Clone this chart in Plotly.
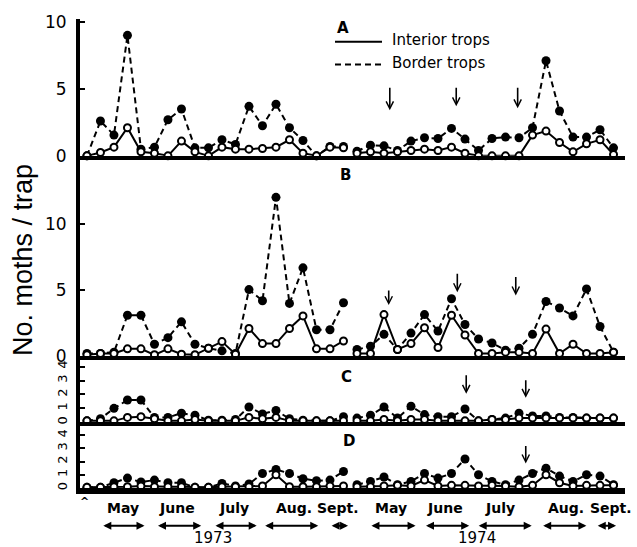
import plotly.graph_objects as go

# Trap visits: 20 per season (1973: 0-19, 1974: 20-39)
visit = list(range(40))
SEASON_SPLIT = 20

# Panel A
border_A = [0, 2.6, 1.55, 9.0, 0.5, 0.65, 2.7, 3.5, 0.6, 0.6, 1.2, 0.85, 3.7, 2.25, 3.85, 2.1, 1.15, 0, 0.7, 0.7,
            0.35, 0.8, 0.75, 0.4, 1.1, 1.35, 1.3, 2.05, 1.25, 0.4, 1.3, 1.4, 1.35, 2.1, 7.1, 3.35, 1.4, 1.4, 1.95, 0.6]
interior_A = [0, 0.25, 0.65, 2.1, 0.3, 0.2, 0, 1.1, 0.3, 0, 0.65, 0.5, 0.5, 0.55, 0.65, 1.2, 0.2, 0, 0.65, 0.6,
              0.2, 0.3, 0.2, 0.3, 0.4, 0.5, 0.4, 0.65, 0.2, 0, 0, 0, 0, 1.55, 1.85, 1.0, 0.3, 0.9, 1.2, 0.1]
# Panel B
border_B = [0.2, 0.2, 0.3, 3.1, 3.1, 0.9, 1.4, 2.6, 0.9, 0.6, 0.4, 0.2, 5.05, 4.2, 12.05, 4.0, 6.7, 2.0, 2.0, 4.05,
            0.5, 0.75, 1.65, 0.5, 1.75, 3.15, 1.9, 4.35, 2.4, 1.3, 1.0, 0.45, 0.6, 1.65, 4.15, 3.65, 3.05, 5.1, 2.25, 0.3]
interior_B = [0.1, 0.2, 0.2, 0.55, 0.55, 0.1, 0.55, 0.15, 0.1, 0.6, 1.1, 0.15, 2.1, 0.95, 0.95, 2.1, 3.05, 0.55, 0.55, 1.15,
              0.2, 0.2, 3.15, 0.5, 0.95, 2.15, 0.65, 3.1, 1.6, 0.2, 0.2, 0.3, 0.3, 0.2, 2.05, 0.2, 0.9, 0.2, 0.2, 0.3]
# Panel C
border_C = [0.1, 0.25, 1.0, 1.6, 1.6, 0.35, 0.35, 0.65, 0.5, 0.15, 0.15, 0.2, 1.1, 0.6, 0.85, 0.25, 0.15, 0.1, 0.1, 0.4,
            0.3, 0.5, 1.1, 0.3, 1.15, 0.55, 0.4, 0.4, 0.95, 0.1, 0.2, 0.3, 0.65, 0.45, 0.45, 0.35, 0.35, 0.3, 0.3, 0.3]
interior_C = [0.1, 0.1, 0.1, 0.35, 0.4, 0.25, 0.1, 0.1, 0.2, 0.1, 0.1, 0.1, 0.35, 0.25, 0.35, 0.1, 0.1, 0.1, 0.1, 0.1,
              0.1, 0.1, 0.2, 0.1, 0.2, 0.2, 0.1, 0.1, 0.1, 0.1, 0.2, 0.2, 0.3, 0.3, 0.3, 0.3, 0.3, 0.3, 0.3, 0.3]
# Panel D
border_D = [0.05, 0.05, 0.4, 0.75, 0.45, 0.6, 0.4, 0.4, 0.05, 0.05, 0.35, 0.15, 0.3, 1.1, 1.4, 1.1, 0.7, 0.55, 0.6, 1.25,
            0.25, 0.5, 0.83, 0.25, 0.5, 1.1, 0.75, 1.1, 2.2, 1.0, 0.5, 0.25, 0.6, 1.1, 1.5, 0.9, 0.5, 1.0, 0.9, 0.25]
interior_D = [0.05, 0.05, 0.1, 0.1, 0.15, 0.1, 0.1, 0.1, 0.05, 0.05, 0.1, 0.1, 0.1, 0.15, 1.0, 0.1, 0.1, 0.1, 0.15, 0.15,
              0.1, 0.1, 0.15, 0.2, 0.15, 0.6, 0.15, 0.2, 0.2, 0.15, 0.2, 0.15, 0.1, 0.2, 1.0, 0.4, 0.15, 0.2, 0.2, 0.2]

panel_names = ["A", "B", "C", "D"]
border = [border_A, border_B, border_C, border_D]
interior = [interior_A, interior_B, interior_C, interior_D]

# Month labels (centre, in visit units) and the span of each month's arrow
month_labels = ["May", "June", "July", "Aug.", "Sept.", "May", "June", "July", "Aug.", "Sept."]
month_centres = [2.65, 6.7, 10.9, 15.3, 18.6, 22.5, 26.5, 30.6, 35.5, 38.8]
month_spans = [(1.1, 4.26), (5.15, 8.46), (9.41, 12.57), (13.09, 17.13), (18.01, 19.34),
               (20.96, 24.34), (25.0, 28.31), (28.9, 32.94), (33.68, 36.99), (37.72, 39.19)]
years = ["1973", "1974"]
year_centres = [9.3, 28.9]

# Arrows marking dates inside panels: (panel, visit position, tip value, length px)
date_marks = [(0, 22.43, 3.4, 24), (0, 27.35, 3.7, 20), (0, 31.9, 3.55, 22),
              (1, 22.35, 3.87, 16), (1, 27.43, 4.85, 20), (1, 31.76, 4.6, 20),
              (2, 28.09, 2.05, 20), (2, 32.5, 1.76, 19),
              (3, 32.5, 1.86, 19)]

# Figure geometry
W, H = 637, 547
ML, MR, MT, MB = 80, 12, 15, 59
PW, PH = W - ML - MR, H - MT - MB


def paper(xp, yp):
    return (xp - ML) / PW, (H - MB - yp) / PH


domains = [[0.7082, 1.0], [0.2812, 0.7082], [0.1402, 0.2812], [0.0, 0.1402]]
yranges = [[0, 10.22], [0, 15.2], [0, 4.76], [0, 4.98]]
ytickvals = [[0, 5, 10], [0, 5, 10], [0, 1, 2, 3, 4], [0, 1, 2, 3, 4]]
xrange_ = [-0.515, 39.85]

FONT = "DejaVu Sans"


def split(vals):
    xs = visit[:SEASON_SPLIT] + [None] + visit[SEASON_SPLIT:]
    ys = vals[:SEASON_SPLIT] + [None] + vals[SEASON_SPLIT:]
    return xs, ys


fig = go.Figure()
for k in range(4):
    xa = "x" if k == 0 else f"x{k + 1}"
    ya = "y" if k == 0 else f"y{k + 1}"
    xs, ys = split(border[k])
    fig.add_trace(go.Scatter(
        x=xs, y=ys, xaxis=xa, yaxis=ya, mode="lines+markers",
        line=dict(color="black", width=2, dash="6px,4px"),
        marker=dict(symbol="circle", size=9, color="black"),
        cliponaxis=False, showlegend=False, connectgaps=False,
        name="Border traps"))
    xs, ys = split(interior[k])
    fig.add_trace(go.Scatter(
        x=xs, y=ys, xaxis=xa, yaxis=ya, mode="lines+markers",
        line=dict(color="black", width=2),
        marker=dict(symbol="circle", size=7, color="white",
                    line=dict(color="black", width=2)),
        cliponaxis=False, showlegend=False, connectgaps=False,
        name="Interior traps"))

layout = dict(
    width=W, height=H,
    margin=dict(l=ML, r=MR, t=MT, b=MB),
    paper_bgcolor="white", plot_bgcolor="white",
    showlegend=False,
)
for k in range(4):
    xkey = "xaxis" if k == 0 else f"xaxis{k + 1}"
    ykey = "yaxis" if k == 0 else f"yaxis{k + 1}"
    yid = "y" if k == 0 else f"y{k + 1}"
    xid = "x" if k == 0 else f"x{k + 1}"
    layout[xkey] = dict(
        domain=[0, 1], anchor=yid, range=xrange_,
        showline=True, linecolor="black", linewidth=6 if k == 3 else 4,
        showgrid=False, zeroline=False, showticklabels=False, ticks="",
    )
    small = k >= 2
    layout[ykey] = dict(
        domain=domains[k], anchor=xid, range=yranges[k],
        showline=True, linecolor="black", linewidth=4,
        showgrid=False, zeroline=False,
        tickvals=ytickvals[k], ticks="inside", ticklen=5, tickwidth=2,
        tickcolor="black",
        tickangle=-90 if small else 0,
        ticklabelstandoff=4 if small else 6,
        tickfont=dict(family=FONT, size=13 if small else 17, color="black"),
    )
fig.update_layout(**layout)

annotations = []
shapes = []


def label(text, xp, yp, size, family=FONT, **kw):
    ax_, ay_ = paper(xp, yp)
    d = dict(text=text, x=ax_, y=ay_, xref="paper", yref="paper", showarrow=False,
             xanchor="center", yanchor="middle",
             font=dict(family=family, size=size, color="black"))
    d.update(kw)
    return d


# Y title
annotations.append(label("No. moths / trap", 23, 258, 27, family="Liberation Sans", textangle=-90))

# Panel letters
for name, (px_, py_) in zip(panel_names, [(343, 24), (345, 172), (346, 376), (349, 441)]):
    annotations.append(label(f"<b>{name}</b>", px_, py_, 15))

# Legend drawn in panel A
for (x0, x1, yl, dash, text, ylab) in [(335, 382, 38, "solid", "Interior trops", 36),
                                         (335, 385, 61, "dash", "Border trops", 59)]:
    p0 = paper(x0, yl)
    p1 = paper(x1, yl)
    shapes.append(dict(type="line", xref="paper", yref="paper", x0=p0[0], y0=p0[1],
                       x1=p1[0], y1=p1[1],
                       line=dict(color="black", width=2, dash="6px,4px" if dash == "dash" else "solid")))
    annotations.append(label(text, 390, ylab, 15, xanchor="left"))

# Date arrows in panels
for (k, xv, yv, ln) in date_marks:
    xid = "x" if k == 0 else f"x{k + 1}"
    yid = "y" if k == 0 else f"y{k + 1}"
    annotations.append(dict(x=xv, y=yv, xref=xid, yref=yid, text="", showarrow=True,
                            ax=0, ay=-ln, arrowhead=5, arrowsize=0.9, arrowwidth=1.6,
                            arrowcolor="black"))

# Month labels, month spans and years along the bottom
_, y_month = paper(0, 508)
_, y_span = paper(0, 526)
_, y_year = paper(0, 538)
_, y_first = paper(0, 502)


def bottom_text(text, xv, yv, size):
    return dict(text=text, x=xv, y=yv, xref="x4", yref="paper", showarrow=False,
                xanchor="center", yanchor="middle",
                font=dict(family=FONT, size=size, color="black"))


annotations.append(bottom_text("<b>^</b>", -0.15, y_first, 11))
for lab, c in zip(month_labels, month_centres):
    annotations.append(bottom_text(f"<b>{lab}</b>", c, y_month, 14))
for (a, b) in month_spans:
    annotations.append(dict(x=b, y=y_span, xref="x4", yref="paper", text="",
                            showarrow=True, axref="x4", ax=a, ayref="pixel", ay=0,
                            arrowside="end+start", arrowhead=2, startarrowhead=2,
                            arrowsize=0.8, startarrowsize=0.8, arrowwidth=2,
                            arrowcolor="black", standoff=0, startstandoff=0))
for yr, c in zip(years, year_centres):
    annotations.append(bottom_text(yr, c, y_year, 15))

fig.update_layout(annotations=annotations, shapes=shapes)
fig.write_html("out.html")
